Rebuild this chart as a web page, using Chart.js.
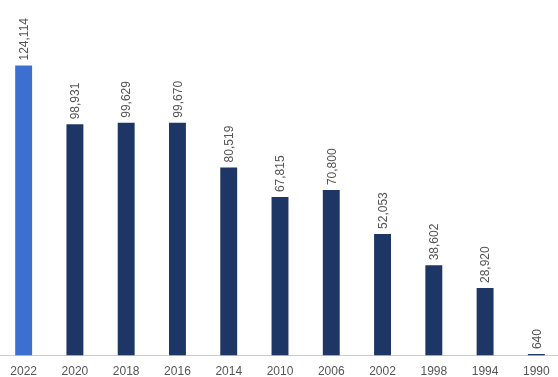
<!DOCTYPE html>
<html>
<head>
<meta charset="utf-8">
<script src="https://cdn.jsdelivr.net/npm/chart.js@4.4.1/dist/chart.umd.min.js"></script>
<style>
  html, body { margin: 0; padding: 0; background: #fff; overflow: hidden; }
  #wrap { width: 558px; height: 377px; position: relative; overflow: hidden; }
  #barChart { position: absolute; left: -2px; top: 0; }
</style>
</head>
<body>
<div id="wrap"><canvas id="barChart" width="564" height="377"></canvas></div>
<script>
var years = ['2022', '2020', '2018', '2016', '2014', '2010', '2006', '2002', '1998', '1994', '1990'];
var counts = [124114, 98931, 99629, 99670, 80519, 67815, 70800, 52053, 38602, 28920, 640];

var barColors = years.map(function (y, i) { return i === 0 ? '#3d6fd0' : '#1e3665'; });

// writes each value above its bar, turned on its side
var valueLabels = {
    id: 'valueLabels',
    afterDatasetsDraw: function (chart) {
        var ctx = chart.ctx;
        var meta = chart.getDatasetMeta(0);
        ctx.save();
        ctx.font = '12px "Liberation Sans", Arial, sans-serif';
        ctx.fillStyle = '#555';
        ctx.textAlign = 'left';
        ctx.textBaseline = 'middle';
        meta.data.forEach(function (bar, i) {
            ctx.save();
            ctx.translate(bar.x + 1, bar.y - 5);
            ctx.rotate(-Math.PI / 2);
            ctx.fillText(counts[i].toLocaleString('en-US'), 0, 0);
            ctx.restore();
        });
        ctx.restore();
    }
};

var ctx = document.getElementById('barChart');
var myChart = new Chart(ctx, {
    type: 'bar',
    data: {
        labels: years,
        datasets: [{
            data: counts,
            backgroundColor: barColors,
            barPercentage: 0.33,
            categoryPercentage: 1
        }]
    },
    options: {
        responsive: false,
        animation: false,
        layout: { padding: { top: 5, right: 0, left: 0, bottom: -11 } },
        plugins: {
            legend: { display: false },
            tooltip: { enabled: false }
        },
        scales: {
            x: {
                grid: { display: false, drawTicks: false },
                border: { display: true, color: '#ccc', width: 1 },
                ticks: {
                    color: '#555',
                    padding: 9,
                    maxRotation: 0,
                    font: { size: 12, family: '"Liberation Sans", Arial, sans-serif' }
                }
            },
            y: {
                display: false,
                min: 0,
                max: 150000
            }
        }
    },
    plugins: [valueLabels]
});
</script>
</body>
</html>
